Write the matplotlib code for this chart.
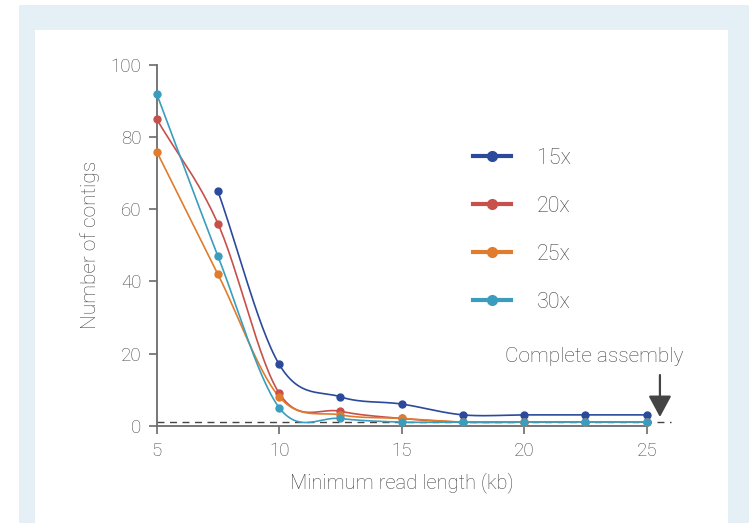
import numpy as np
import matplotlib
matplotlib.use("Agg")
import matplotlib.pyplot as plt
from matplotlib.patches import Rectangle
from matplotlib.lines import Line2D

plt.rcParams['font.family'] = ['Roboto', 'DejaVu Sans']
plt.rcParams['font.weight'] = 'light'
plt.rcParams['axes.labelweight'] = 'light'

# ---- data ----
x_all = [5, 7.5, 10, 12.5, 15, 17.5, 20, 22.5, 25]
x_15 = [7.5, 10, 12.5, 15, 17.5, 20, 22.5, 25]
y_15 = [65, 17, 8, 6, 3, 3, 3, 3]
y_20 = [85, 56, 9, 4, 2, 1, 1, 1, 1]
y_25 = [76, 42, 8, 3, 2, 1, 1, 1, 1]
y_30 = [92, 47, 5, 2, 1, 1, 1, 1, 1]
series_labels = ['15x', '20x', '25x', '30x']
colors = ['#2b4a9c', '#c8504b', '#e07c2b', '#3a9dbd']
x_ticks = [5, 10, 15, 20, 25]
y_ticks = [0, 20, 40, 60, 80, 100]
complete_level = 1

def catmull_rom(xs, ys, n=30):
    xs = np.asarray(xs, float); ys = np.asarray(ys, float)
    P = np.column_stack([xs, ys])
    P = np.vstack([2 * P[0] - P[1], P, 2 * P[-1] - P[-2]])
    out = []
    for i in range(1, len(P) - 2):
        p0, p1, p2, p3 = P[i - 1], P[i], P[i + 1], P[i + 2]
        t = np.linspace(0, 1, n)[:, None]
        seg = 0.5 * ((2 * p1) + (-p0 + p2) * t + (2 * p0 - 5 * p1 + 4 * p2 - p3) * t ** 2
                     + (-p0 + 3 * p1 - 3 * p2 + p3) * t ** 3)
        out.append(seg)
    out = np.vstack(out)
    return out[:, 0], out[:, 1]

W, H = 749, 523
fig = plt.figure(figsize=(W / 100, H / 100), dpi=100)
fig.patch.set_facecolor('white')
# background frame
fig.add_artist(Rectangle((19 / W, 0), (W - 19) / W, (H - 5) / H, transform=fig.transFigure,
                         facecolor='#e5eff6', edgecolor='none', zorder=0))
fig.add_artist(Rectangle((35 / W, 0), (728 - 35) / W, (H - 30) / H, transform=fig.transFigure,
                         facecolor='white', edgecolor='none', zorder=0))

ax = fig.add_axes([156.7 / W, 97.3 / H, 21.5 * 24.5 / W, 360.7 / H])
ax.set_facecolor('none')
ax.set_xlim(5, 26.5)
ax.set_ylim(0, 100)

axis_col = '#6b6b6b'
text_col = '#444444'
for s in ['top', 'right']:
    ax.spines[s].set_visible(False)
ax.spines['left'].set_bounds(0, 100)
ax.spines['bottom'].set_bounds(5, 25)
for s in ['left', 'bottom']:
    ax.spines[s].set_color(axis_col)
    ax.spines[s].set_linewidth(1.3)
ax.set_xticks(x_ticks)
ax.set_yticks(y_ticks)
ax.tick_params(colors=axis_col, labelcolor=text_col, labelsize=13.5, width=1.2, length=6, direction='out')
ax.tick_params(axis='x', pad=6)
ax.tick_params(axis='y', pad=5)

ax.set_xlabel('Minimum read length (kb)', fontsize=14.5, color=text_col)
ax.set_ylabel('Number of contigs', fontsize=15, color=text_col)
ax.xaxis.set_label_coords(10 / 21.5, -0.13)
ax.yaxis.set_label_coords(-0.108, 0.5)

# dashed complete-assembly line
ax.plot([5, 26], [complete_level, complete_level], ls=(0, (5, 4)), color='#444444', lw=1.0,
        clip_on=False, zorder=2)

xs_list = [x_15, x_all, x_all, x_all]
ys_list = [y_15, y_20, y_25, y_30]
handles = []
for xs, ys, c, lab in zip(xs_list, ys_list, colors, series_labels):
    sx, sy = catmull_rom(xs, ys)
    ax.plot(sx, sy, color=c, lw=1.2, clip_on=False, zorder=3)
    ax.plot(xs, ys, 'o', color=c, ms=5, clip_on=False, zorder=4)
    handles.append(Line2D([0], [0], color=c, lw=3, marker='o', ms=7, label=lab))

leg = ax.legend(handles=handles, loc='upper left', bbox_to_anchor=(473 / W, 1 - 148 / H),
                bbox_transform=fig.transFigure, frameon=False, fontsize=15.5,
                handlelength=1.75, handletextpad=1.2, labelspacing=1.25, borderpad=0,
                borderaxespad=0)
for t in leg.get_texts():
    t.set_color(text_col)

ax.text(22.87, 19.1, 'Complete assembly', fontsize=15, color=text_col, ha='center', va='center')
ax.annotate('', xy=(25.54, 2.4), xytext=(25.54, 14.05),
            arrowprops=dict(arrowstyle='-|>,head_width=0.7,head_length=1.3', color='#444444', lw=1.6,
                            shrinkA=0, shrinkB=0),
            annotation_clip=False)

fig.savefig('out.png', dpi=100)
